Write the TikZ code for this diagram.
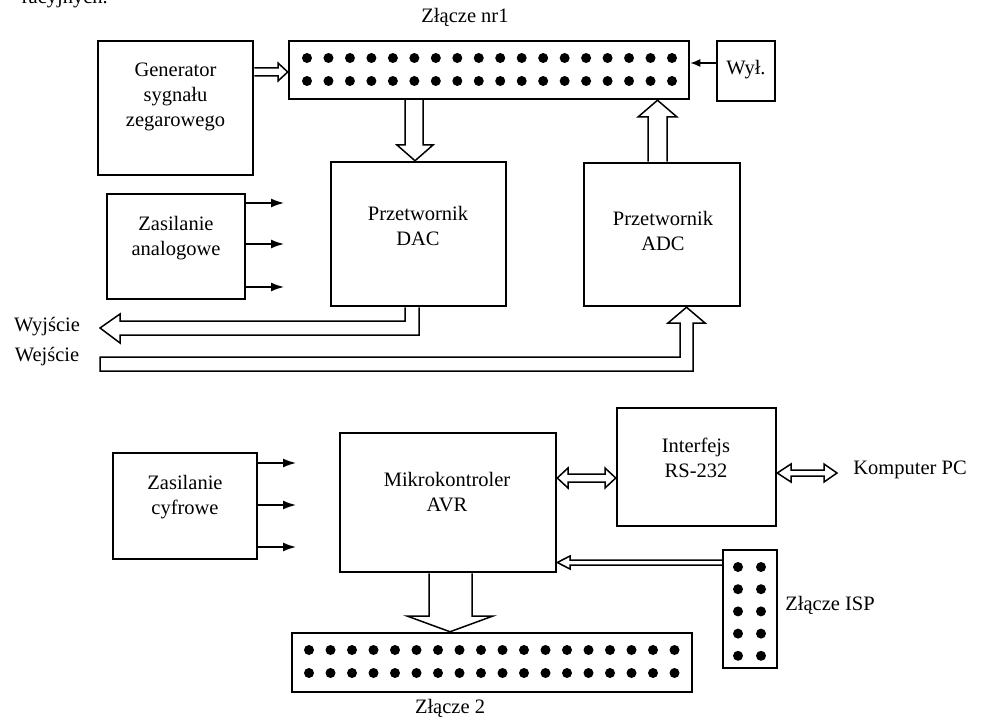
\documentclass[tikz,border=0pt]{standalone}
\usepackage{fontspec}
\setmainfont{Liberation Serif}
\usetikzlibrary{arrows.meta}
\begin{document}
\begin{tikzpicture}[x=1pt,y=-1pt,
  box/.style={draw, line width=2.5pt, inner sep=0pt, rectangle},
  lbl/.style={font=\fontsize{20.5}{25}\selectfont, align=center, inner sep=0pt},
  hollow/.style={draw, line width=1.5pt, fill=white, line join=miter},
  pwr/.style={line width=1.5pt, -{Latex[length=13pt,width=9pt]}},
  pin/.style={fill=black}]
\useasboundingbox (0,0) rectangle (982,719);

% partial text at the top edge
\node[lbl, anchor=base east] (toptxt) at (108,4) {racyjnych.};

% boxes
\node[box, minimum width=155pt, minimum height=134pt] (gen) at (175.5,108) {};
\node[box, minimum width=400pt, minimum height=58pt] (zl1) at (489,70) {};
\node[box, minimum width=58pt, minimum height=60pt] (wyl) at (746,71) {};
\node[box, minimum width=175pt, minimum height=144pt] (dac) at (418.5,234) {};
\node[box, minimum width=156pt, minimum height=143pt] (adc) at (662,234.5) {};
\node[box, minimum width=138pt, minimum height=105pt] (za) at (176,246.5) {};
\node[box, minimum width=159pt, minimum height=118pt] (rs) at (696.5,467) {};
\node[box, minimum width=216pt, minimum height=139pt] (avr) at (448,502.5) {};
\node[box, minimum width=144pt, minimum height=106pt] (zc) at (185,506) {};
\node[box, minimum width=54pt, minimum height=118pt] (isp) at (750,609) {};
\node[box, minimum width=400pt, minimum height=59pt] (zl2) at (492,662.5) {};

% pins
\foreach \i in {0,...,17} {
  \fill[pin] (307+21.47*\i,58) circle (5pt);
  \fill[pin] (307+21.47*\i,81) circle (5pt);
  \fill[pin] (309+21.5*\i,650) circle (5pt);
  \fill[pin] (309+21.5*\i,673) circle (5pt);
}
\foreach \j in {0,...,4} {
  \fill[pin] (738,567+22.2*\j) circle (5pt);
  \fill[pin] (761,567+22.2*\j) circle (5pt);
}

% texts
\node[lbl] (tgen) at (175.5,97) {Generator\\sygnału\\zegarowego};
\node[lbl] (tzl1) at (465,17) {Złącze nr1};
\node[lbl] (twyl) at (746,70) {Wył.};
\node[lbl] (tdac) at (418,225.5) {Przetwornik\\DAC};
\node[lbl] (tadc) at (663,230.5) {Przetwornik\\ADC};
\node[lbl] (tza) at (176,238.5) {Zasilanie\\analogowe};
\node[lbl] (trs) at (696,458) {Interfejs\\RS-232};
\node[lbl] (tavr) at (447,492.5) {Mikrokontroler\\AVR};
\node[lbl] (tzc) at (185,497.5) {Zasilanie\\cyfrowe};
\node[lbl] (twy) at (47,327) {Wyjście};
\node[lbl] (twe) at (47,357) {Wejście};
\node[lbl] (tpc) at (910,470) {Komputer PC};
\node[lbl] (tisp) at (830,605) {Złącze ISP};
\node[lbl] (tzl2) at (450,708) {Złącze 2};

% hollow bus arrows
\draw[hollow] (gen.east |- 0,68) -- (278,68) -- (278,63) -- (zl1.west |- 0,72) -- (278,81) -- (278,76) -- (gen.east |- 0,76);
\draw[hollow] (zl1.south -| 405,0) -- (405,145) -- (397,145) -- (dac.north -| 415,0) -- (433,145) -- (423,145) -- (zl1.south -| 423,0);
\draw[hollow] (adc.north -| 648,0) -- (648,117) -- (638,117) -- (zl1.south -| 657.5,0) -- (677,117) -- (667,117) -- (adc.north -| 667,0);
\draw[hollow] (dac.south -| 405,0) -- (405,321) -- (120,321) -- (120,314) -- (100,328) -- (120,343) -- (120,335) -- (419,335) -- (dac.south -| 419,0);
\draw[hollow] (100,357) -- (680,357) -- (680,323) -- (668,323) -- (adc.south -| 686.5,0) -- (705,323) -- (693,323) -- (693,371) -- (100,371) -- cycle;
\draw[hollow] (avr.south -| 429,0) -- (429,616) -- (407,616) -- (zl2.north -| 450,0) -- (493,616) -- (472,616) -- (avr.south -| 472,0);
\draw[hollow] (avr.east |- 0,478) -- (568,468) -- (568,474) -- (605,474) -- (605,468) -- (rs.west |- 0,478) -- (605,488) -- (605,482) -- (568,482) -- (568,488) -- cycle;
\coordinate (pc) at (837,473);
\draw[hollow] (rs.east |- 0,473) -- (791,464) -- (791,470) -- (824,470) -- (824,464) -- (pc) -- (824,482) -- (824,476) -- (791,476) -- (791,482) -- cycle;
\draw[hollow] (isp.west |- 0,560) -- (570,560) -- (570,556) -- (avr.east |- 0,562.5) -- (570,569) -- (570,565) -- (isp.west |- 0,565);

% simple arrows
\draw[line width=1.5pt, -{Latex[length=10pt,width=8pt]}] (wyl.west |- 0,63) -- (zl1.east |- 0,63);
\foreach \yy [count=\k] in {203,244,287} {
  \coordinate (ea\k) at (284,\yy);
  \draw[pwr] (za.east |- ea\k) -- (ea\k);
}
\foreach \yy [count=\k] in {463,505,547} {
  \coordinate (ec\k) at (296,\yy);
  \draw[pwr] (zc.east |- ec\k) -- (ec\k);
}
\end{tikzpicture}
\end{document}
